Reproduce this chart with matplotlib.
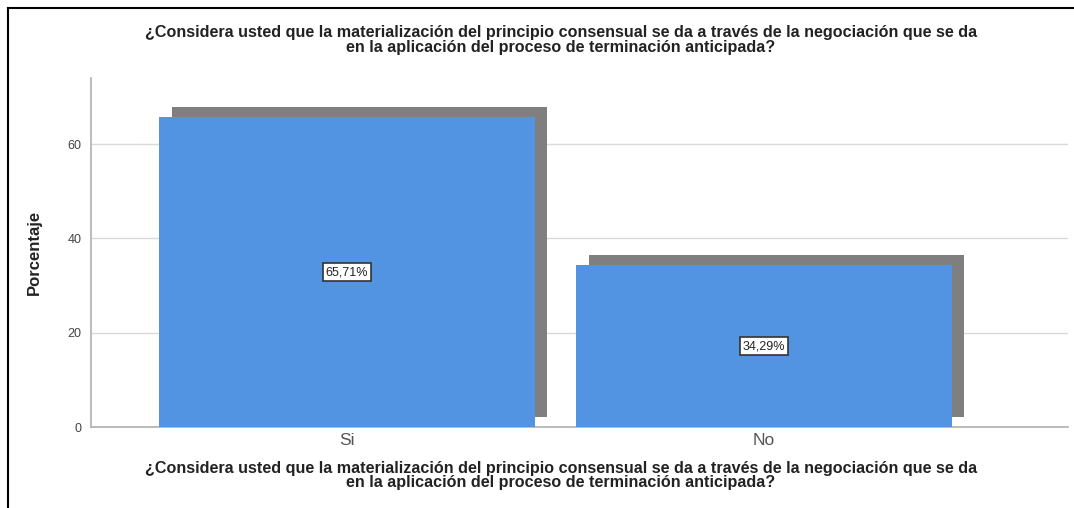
import matplotlib.pyplot as plt
from matplotlib.lines import Line2D
import numpy as np

plt.rcParams['font.family'] = ['Liberation Sans', 'DejaVu Sans']

categories = ['Si', 'No']
porcentajes = [65.71, 34.29]
etiquetas = ['65,71%', '34,29%']
yticks = [0, 20, 40, 60]

pregunta = ('¿Considera usted que la materialización del principio consensual se da a través de la negociación que se da\n'
            'en la aplicación del proceso de terminación anticipada?')

fig = plt.figure(figsize=(10.74, 5.08), dpi=100)
ax = fig.add_axes([0.0847, 0.1594, 0.9097, 0.6871])

x = np.arange(len(categories))
width = 0.9
# sombra gris desplazada a la derecha y hacia arriba
ax.bar(x + 0.03, porcentajes, width, bottom=2.1, color='#7f7f7f', zorder=2)
ax.bar(x, porcentajes, width, color='#5294e2', zorder=3)

for xi, v, lab in zip(x, porcentajes, etiquetas):
    ax.text(xi, v / 2, lab, ha='center', va='center', fontsize=9, color='#222222', zorder=5,
            bbox=dict(boxstyle='square,pad=0.25', facecolor='white', edgecolor='#333333', linewidth=1.2))

ax.set_xlim(-0.614, 1.729)
ax.set_ylim(0, 74)
ax.set_yticks(yticks)
ax.set_xticks(x)
ax.set_xticklabels(categories, fontsize=12.5, color='#555555')
ax.tick_params(axis='y', length=0, pad=7, labelsize=9, labelcolor='#444444')
ax.tick_params(axis='x', length=0, pad=4)
ax.yaxis.grid(True, color='#d9d9d9', linewidth=1, zorder=0)
ax.set_axisbelow(True)
for s in ['top', 'right']:
    ax.spines[s].set_visible(False)
for s in ['left', 'bottom']:
    ax.spines[s].set_color('#b0b0b0')
    ax.spines[s].set_linewidth(1.2)

ax.set_ylabel('Porcentaje', fontsize=12, fontweight='bold', color='#222222')
ax.yaxis.set_label_coords(-0.05, 0.5)

fig.text(0.522, 0.921, pregunta, ha='center', va='center', fontsize=11.6, fontweight='bold',
         color='#222222', linespacing=0.95)
fig.text(0.522, 0.064, pregunta, ha='center', va='center', fontsize=11.6, fontweight='bold',
         color='#222222', linespacing=0.95)

# marco negro (arriba e izquierda)
fig.add_artist(Line2D([0.0074, 1.0], [0.984, 0.984], color='black', linewidth=1.5))
fig.add_artist(Line2D([0.0074, 0.0074], [0.0, 0.984], color='black', linewidth=1.5))

fig.savefig('out.png', dpi=100)
